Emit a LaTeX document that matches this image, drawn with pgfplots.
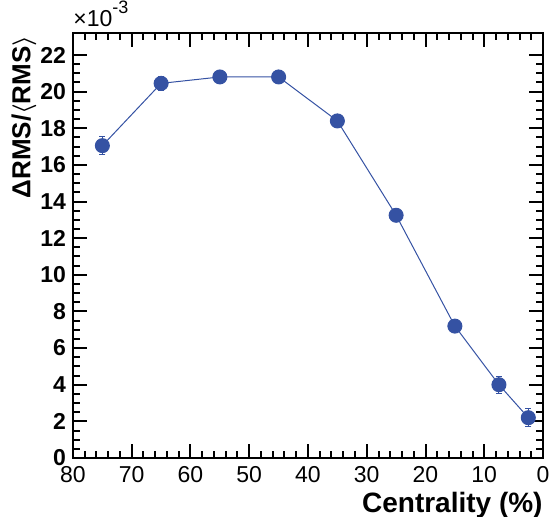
\documentclass[border=0pt]{standalone}
\usepackage{pgfplots}
\pgfplotsset{compat=1.18}
\usepackage{fontspec}
\setmainfont{Liberation Sans}
\definecolor{rootblue}{RGB}{53,82,163}
\begin{document}
\begin{tikzpicture}
\begin{axis}[
  name=ax,
  at={(0,0)}, anchor=south west,
  scale only axis, width=235pt, height=212.5pt,
  x dir=reverse,
  xmin=0, xmax=80, ymin=0, ymax=23.2,
  xtick={0,10,...,80}, ytick={0,2,...,22},
  minor x tick num=4, minor y tick num=3,
  tick align=inside,
  xtick pos=both, ytick pos=both,
  major tick length=7pt, minor tick length=3.5pt,
  tick style={black, line width=1pt},
  axis line style={line width=1pt},
  /pgf/number format/assume math mode=true,
  xticklabel style={font=\fontsize{11.5}{12}\selectfont, yshift=-0.5pt},
  yticklabel style={font=\fontsize{11.5}{12}\selectfont\bfseries},
  xlabel={Centrality (\%)},
  xlabel style={at={(axis description cs:1,-0.08)}, anchor=north east, inner sep=0pt,
    font=\fontsize{14}{16}\selectfont\bfseries},
  ylabel={ΔRMS/{\boldmath$\langle$}RMS{\boldmath$\rangle$}},
  ylabel style={at={(axis description cs:-0.077,0.995)}, anchor=south east, inner sep=0pt,
    font=\fontsize{13}{15}\selectfont\bfseries},
]
\addplot[rootblue, line width=0.5pt, mark=*, mark size=3.5pt,
  mark options={fill=rootblue, draw=rootblue},
  error bars/.cd, y dir=both, y explicit,
  error bar style={rootblue, line width=0.5pt},
  error mark options={rootblue, mark size=1.5pt, rotate=90}]
coordinates {
  (75, 17.05) +- (0, 0.5)
  (65, 20.45) +- (0, 0.4)
  (55, 20.8)  +- (0, 0.35)
  (45, 20.8)  +- (0, 0.3)
  (35, 18.4)  +- (0, 0.3)
  (25, 13.25) +- (0, 0.25)
  (15, 7.2)   +- (0, 0.3)
  (7.5, 4.0)  +- (0, 0.45)
  (2.5, 2.2)  +- (0, 0.5)
};
\end{axis}
\node[anchor=south west, inner sep=0pt, font=\fontsize{11.5}{12}\selectfont]
  at ([yshift=3pt]ax.north west) {×10\raisebox{0.55em}{\fontsize{9}{9}\selectfont -3}};
\pgfresetboundingbox
\useasboundingbox (-36.5pt,-29.5pt) rectangle (238pt,229pt);
\end{tikzpicture}
\end{document}
